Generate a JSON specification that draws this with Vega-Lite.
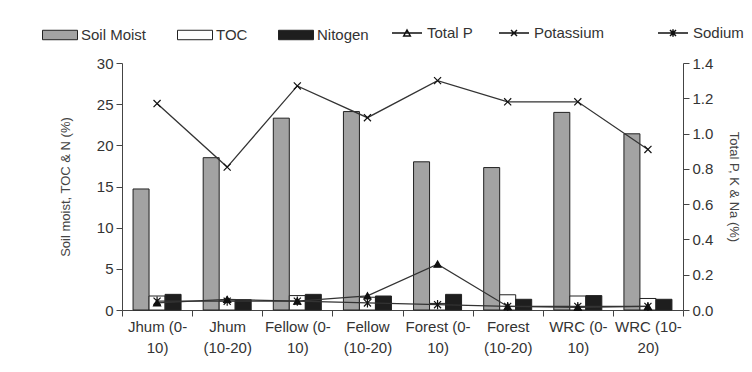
{
  "$schema": "https://vega.github.io/schema/vega-lite/v6.json",
  "width": 561,
  "height": 247,
  "autosize": {"type": "none"},
  "padding": {"left": 122, "top": 63, "right": 69, "bottom": 62},
  "background": "white",
  "config": {
    "font": "Liberation Sans",
    "view": {"stroke": null},
    "axis": {
      "labelFont": "Liberation Sans",
      "labelColor": "#333",
      "labelFontSize": 15,
      "domainColor": "#444",
      "tickColor": "#444",
      "grid": false,
      "titleFont": "Liberation Sans",
      "titleFontWeight": "normal",
      "titleColor": "#444",
      "titleFontSize": 13,
      "tickSize": 6,
      "labelPadding": 3
    },
    "legend": {"labelFont": "Liberation Sans"}
  },
  "datasets": {
    "bars": [
      {"site": "Jhum (0-|10)", "measure": "Soil Moist", "value": 14.7},
      {"site": "Jhum (0-|10)", "measure": "TOC", "value": 1.7},
      {"site": "Jhum (0-|10)", "measure": "Nitogen", "value": 1.9},
      {"site": "Jhum|(10-20)", "measure": "Soil Moist", "value": 18.5},
      {"site": "Jhum|(10-20)", "measure": "TOC", "value": 1.1},
      {"site": "Jhum|(10-20)", "measure": "Nitogen", "value": 1.25},
      {"site": "Fellow (0-|10)", "measure": "Soil Moist", "value": 23.3},
      {"site": "Fellow (0-|10)", "measure": "TOC", "value": 1.75},
      {"site": "Fellow (0-|10)", "measure": "Nitogen", "value": 1.9},
      {"site": "Fellow|(10-20)", "measure": "Soil Moist", "value": 24.1},
      {"site": "Fellow|(10-20)", "measure": "TOC", "value": 1.55},
      {"site": "Fellow|(10-20)", "measure": "Nitogen", "value": 1.7},
      {"site": "Forest (0-|10)", "measure": "Soil Moist", "value": 18.0},
      {"site": "Forest (0-|10)", "measure": "TOC", "value": 0.8},
      {"site": "Forest (0-|10)", "measure": "Nitogen", "value": 1.9},
      {"site": "Forest|(10-20)", "measure": "Soil Moist", "value": 17.3},
      {"site": "Forest|(10-20)", "measure": "TOC", "value": 1.85},
      {"site": "Forest|(10-20)", "measure": "Nitogen", "value": 1.3},
      {"site": "WRC (0-|10)", "measure": "Soil Moist", "value": 24.0},
      {"site": "WRC (0-|10)", "measure": "TOC", "value": 1.7},
      {"site": "WRC (0-|10)", "measure": "Nitogen", "value": 1.75},
      {"site": "WRC (10-|20)", "measure": "Soil Moist", "value": 21.4},
      {"site": "WRC (10-|20)", "measure": "TOC", "value": 1.4},
      {"site": "WRC (10-|20)", "measure": "Nitogen", "value": 1.3}
    ],
    "lines": [
      {"site": "Jhum (0-|10)", "series": "Total P", "value": 0.04},
      {"site": "Jhum|(10-20)", "series": "Total P", "value": 0.06},
      {"site": "Fellow (0-|10)", "series": "Total P", "value": 0.05},
      {"site": "Fellow|(10-20)", "series": "Total P", "value": 0.08},
      {"site": "Forest (0-|10)", "series": "Total P", "value": 0.26},
      {"site": "Forest|(10-20)", "series": "Total P", "value": 0.02},
      {"site": "WRC (0-|10)", "series": "Total P", "value": 0.015},
      {"site": "WRC (10-|20)", "series": "Total P", "value": 0.02},
      {"site": "Jhum (0-|10)", "series": "Potassium", "value": 1.17},
      {"site": "Jhum|(10-20)", "series": "Potassium", "value": 0.81},
      {"site": "Fellow (0-|10)", "series": "Potassium", "value": 1.27},
      {"site": "Fellow|(10-20)", "series": "Potassium", "value": 1.09},
      {"site": "Forest (0-|10)", "series": "Potassium", "value": 1.3},
      {"site": "Forest|(10-20)", "series": "Potassium", "value": 1.18},
      {"site": "WRC (0-|10)", "series": "Potassium", "value": 1.18},
      {"site": "WRC (10-|20)", "series": "Potassium", "value": 0.91},
      {"site": "Jhum (0-|10)", "series": "Sodium", "value": 0.05},
      {"site": "Jhum|(10-20)", "series": "Sodium", "value": 0.05},
      {"site": "Fellow (0-|10)", "series": "Sodium", "value": 0.05},
      {"site": "Fellow|(10-20)", "series": "Sodium", "value": 0.04},
      {"site": "Forest (0-|10)", "series": "Sodium", "value": 0.03},
      {"site": "Forest|(10-20)", "series": "Sodium", "value": 0.02},
      {"site": "WRC (0-|10)", "series": "Sodium", "value": 0.02},
      {"site": "WRC (10-|20)", "series": "Sodium", "value": 0.02}
    ]
  },
  "encoding": {
    "x": {
      "field": "site",
      "type": "nominal",
      "sort": null,
      "scale": {
        "domain": ["Jhum (0-|10)", "Jhum|(10-20)", "Fellow (0-|10)", "Fellow|(10-20)", "Forest (0-|10)", "Forest|(10-20)", "WRC (0-|10)", "WRC (10-|20)"],
        "paddingInner": 0,
        "paddingOuter": 0
      },
      "axis": {
        "title": null,
        "labelAngle": 0,
        "labelExpr": "split(datum.label, '|')",
        "labelLineHeight": 21,
        "tickBand": "extent",
        "labelPadding": 3
      }
    }
  },
  "layer": [
    {
      "data": {"name": "bars"},
      "mark": {"type": "bar", "stroke": "#222", "strokeWidth": 1},
      "encoding": {
        "xOffset": {
          "field": "measure",
          "type": "nominal",
          "sort": ["Soil Moist", "TOC", "Nitogen"],
          "scale": {"domain": ["Soil Moist", "TOC", "Nitogen"], "paddingInner": 0, "paddingOuter": 0.69}
        },
        "y": {
          "field": "value",
          "type": "quantitative",
          "scale": {"domain": [0, 30], "nice": false},
          "axis": {
            "orient": "left",
            "values": [0, 5, 10, 15, 20, 25, 30],
            "title": "Soil moist, TOC & N (%)",
            "titlePadding": 24
          }
        },
        "fill": {
          "field": "measure",
          "type": "nominal",
          "scale": {"domain": ["Soil Moist", "TOC", "Nitogen"], "range": ["#a3a3a3", "#ffffff", "#1e1e1e"]},
          "legend": {
            "orient": "none",
            "legendX": -80,
            "legendY": -46,
            "direction": "horizontal",
            "columns": 3,
            "title": null,
            "symbolType": "M-1,-0.27H1V0.27H-1Z",
            "symbolSize": 1225,
            "symbolStrokeColor": "#222",
            "symbolStrokeWidth": 1,
            "labelFontSize": 15,
            "labelColor": "#333",
            "columnPadding": 28,
            "labelOffset": 3
          }
        }
      }
    },
    {
      "data": {"name": "lines"},
      "encoding": {
        "y": {
          "field": "value",
          "type": "quantitative",
          "scale": {"domain": [0, 1.4], "nice": false},
          "axis": {
            "orient": "right",
            "values": [0, 0.2, 0.4, 0.6, 0.8, 1.0, 1.2, 1.4],
            "format": ".1f",
            "title": "Total P, K & Na (%)",
            "titlePadding": 14
          }
        }
      },
      "layer": [
        {
          "mark": {"type": "line", "color": "#333", "strokeWidth": 1.3},
          "encoding": {"detail": {"field": "series", "type": "nominal"}}
        },
        {
          "mark": {"type": "point", "filled": true, "fill": "#111", "stroke": "#111", "size": 50, "strokeWidth": 1.2, "opacity": 1},
          "encoding": {
            "shape": {
              "field": "series",
              "type": "nominal",
              "scale": {
                "domain": ["Total P", "Potassium", "Sodium"],
                "range": ["triangle-up", "M-1,-1L1,1M-1,1L1,-1", "M-1,-1L1,1M-1,1L1,-1M0,-1.3V1.3"]
              },
              "legend": null
            }
          }
        },
        {
          "transform": [{"filter": "datum.series != 'Sodium'"}],
          "mark": {"type": "point", "filled": false, "stroke": "#111", "strokeWidth": 1.2, "opacity": 0},
          "encoding": {
            "shape": {
              "field": "series",
              "type": "nominal",
              "scale": {
                "domain": ["Total P", "Potassium"],
                "range": [
                  "M-1,0H1M-0.22,0.2L0,-0.2L0.22,0.2Z",
                  "M-1,0H1M-0.2,-0.2L0.2,0.2M-0.2,0.2L0.2,-0.2"
                ]
              },
              "legend": {
                "orient": "none",
                "legendX": 269,
                "legendY": -46,
                "direction": "horizontal",
                "columns": 2,
                "title": null,
                "symbolSize": 900,
                "labelFontSize": 15,
                "labelColor": "#333",
                "columnPadding": 23,
                "labelOffset": 4,
                "encode": {
                  "symbols": {
                    "update": {
                      "fill": {"value": "#111"},
                      "stroke": {"value": "#111"},
                      "strokeWidth": {"value": 1.2},
                      "opacity": {"value": 1}
                    }
                  }
                }
              }
            }
          }
        },
        {
          "transform": [{"filter": "datum.series == 'Sodium'"}],
          "mark": {"type": "point", "filled": false, "stroke": "#111", "strokeWidth": 1.2, "opacity": 0},
          "encoding": {
            "shape": {
              "field": "series",
              "type": "nominal",
              "scale": {
                "domain": ["Sodium"],
                "range": ["M-1,0H1M-0.2,-0.2L0.2,0.2M-0.2,0.2L0.2,-0.2M0,-0.25V0.25"]
              },
              "legend": {
                "orient": "none",
                "legendX": 535,
                "legendY": -46,
                "direction": "horizontal",
                "title": null,
                "symbolSize": 900,
                "labelFontSize": 15,
                "labelColor": "#333",
                "labelOffset": 4,
                "encode": {
                  "symbols": {
                    "update": {
                      "fill": {"value": "#111"},
                      "stroke": {"value": "#111"},
                      "strokeWidth": {"value": 1.2},
                      "opacity": {"value": 1}
                    }
                  }
                }
              }
            }
          }
        }
      ],
      "resolve": {"scale": {"shape": "independent"}}
    }
  ],
  "resolve": {"scale": {"y": "independent"}}
}
